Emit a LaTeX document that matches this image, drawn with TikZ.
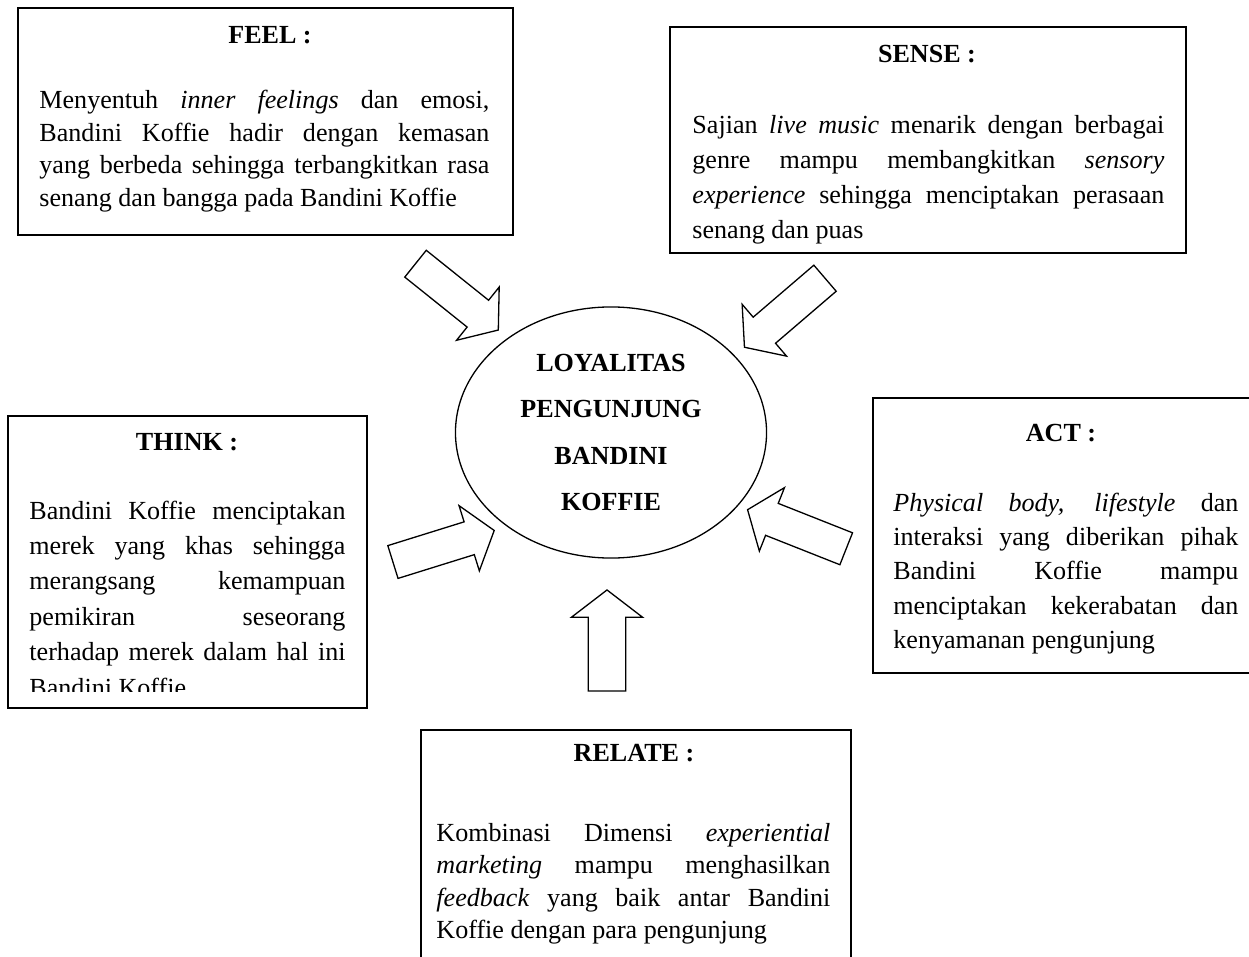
\documentclass[tikz,border=0pt]{standalone}
\usepackage{fontspec}
\setmainfont[Ligatures=CommonOff]{Liberation Serif}
\usetikzlibrary{shapes.geometric,shapes.arrows,positioning}
\tolerance=10000
\hbadness=10000

\tikzset{
  kotak/.style={draw, line width=.9pt, inner sep=0pt, anchor=north west},
  judul/.style={font=\bfseries\fontsize{12}{14}\selectfont, anchor=base, inner sep=0pt},
  isi/.style 2 args={text width=#1, align=justify, anchor=base west, inner sep=0pt,
    font=\fontsize{12}{#2}\selectfont},
  panahblok/.style={single arrow, draw, line width=.6pt, anchor=tail, inner xsep=0pt,
    inner ysep=7.6pt, minimum height=48.8pt, single arrow head extend=7.8pt,
    single arrow tip angle=105}
}

\begin{document}
\begin{tikzpicture}[x=.46pt, y=-.46pt]
    \useasboundingbox (0,0) rectangle (1249,957);

    \node[kotak, minimum width=227.7pt, minimum height=104.4pt] (feel) at (17,7) {};
    \node[judul] (feelJudul) at (270,43.5) {FEEL :};
    \node[isi={207pt}{14.9pt}] (feelIsi) at (39,109)
      {Menyentuh \textit{inner feelings} dan emosi,\linebreak
       Bandini Koffie hadir dengan kemasan\linebreak
       yang berbeda sehingga terbangkitkan rasa\linebreak
       senang dan bangga pada Bandini Koffie};

    \node[kotak, minimum width=237.4pt, minimum height=104pt] (sense) at (669,26) {};
    \node[judul] (senseJudul) at (927,62.5) {SENSE :};
    \node[isi={217.1pt}{16pt}] (senseIsi) at (692,134)
      {Sajian \textit{live music} menarik dengan berbagai\linebreak
       genre mampu membangkitkan \textit{sensory}\linebreak
       \textit{experience} sehingga menciptakan perasaan\linebreak
       senang dan puas};

    \node[kotak, minimum width=165.1pt, minimum height=134.3pt] (think) at (7,415) {};
    \node[judul] (thinkJudul) at (187,450.5) {THINK :};
    \begin{scope}
      \clip (7,415) rectangle (366,691);
      \node[isi={145.4pt}{16.3pt}] (thinkIsi) at (29,519)
        {Bandini Koffie menciptakan\linebreak
         merek yang khas sehingga\linebreak
         merangsang kemampuan\linebreak
         pemikiran seseorang\linebreak
         terhadap merek dalam hal ini\linebreak
         Bandini Koffie};
    \end{scope}

    \node[kotak, minimum width=173.9pt, minimum height=126.5pt] (act) at (872,397) {};
    \node[judul] (actJudul) at (1061,441.5) {ACT :};
    \node[isi={158.7pt}{15.8pt}] (actIsi) at (893,511)
      {\textit{Physical body, lifestyle} dan\linebreak
       interaksi yang diberikan pihak\linebreak
       Bandini Koffie mampu\linebreak
       menciptakan kekerabatan dan\linebreak
       kenyamanan pengunjung};

    \node[kotak, minimum width=197.8pt, minimum height=120pt] (relate) at (420,729) {};
    \node[judul] (relateJudul) at (634,761.5) {RELATE :};
    \node[isi={181.2pt}{15pt}] (relateIsi) at (436,841)
      {Kombinasi Dimensi \textit{experiential}\linebreak
       \textit{marketing} mampu menghasilkan\linebreak
       \textit{feedback} yang baik antar Bandini\linebreak
       Koffie dengan para pengunjung};

    \node[draw, ellipse, line width=.6pt, minimum width=143.1pt, minimum height=115.5pt,
      align=center, font=\bfseries\fontsize{12}{21.2}\selectfont] (loyal) at (611,432.5)
      {LOYALITAS\\PENGUNJUNG\\BANDINI\\KOFFIE};

    \node[panahblok, rotate=-38.7] (feelPanah) at (415,263.3) {};
    \node[panahblok, rotate=-139.4] (sensePanah) at (825.5,277.8) {};
    \node[panahblok, rotate=17.3] (thinkPanah) at (392.3,562.2) {};
    \node[panahblok, rotate=158.4] (actPanah) at (846.8,549) {};
    \node[panahblok, rotate=90, minimum height=46.5pt, inner ysep=8.3pt] (relatePanah) at (607,691.7) {};
\end{tikzpicture}
\end{document}
